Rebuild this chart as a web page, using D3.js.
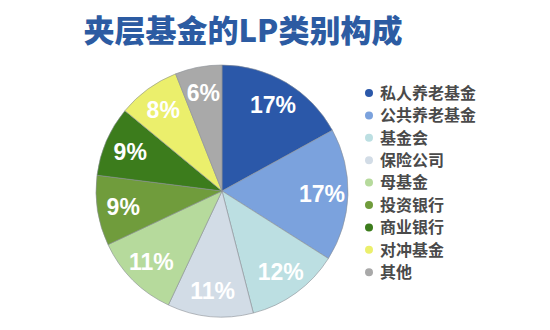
<!DOCTYPE html>
<html><head><meta charset="utf-8">
<script src="https://cdn.jsdelivr.net/npm/d3@7"></script>
<style>body{margin:0;background:#fff;} svg{display:block;}</style>
</head><body>
<svg id="c" width="550" height="330"></svg>
<script>
const categories = ["私人养老基金","公共养老基金","基金会","保险公司","母基金","投资银行","商业银行","对冲基金","其他"];
const values = [17,17,12,11,11,9,9,8,6];
const colors = ["#2b58a9","#7ba2dd","#bcdfe2","#d2dce6","#b6da9c","#709c3c","#3c7c1c","#ebef6c","#a9a9a9"];
const title = "夹层基金的LP类别构成";

const svg = d3.select("#c");
const cx = 222, cy = 191, r = 126;
svg.append("text").attr("x", 243).attr("y", 42).attr("text-anchor","middle")
  .attr("font-family","'Noto Sans CJK SC'").attr("font-weight",900).attr("font-size",31)
  .attr("fill","#2c5ba2").text(title);

const data = categories.map((c,i)=>({c, v: values[i], col: colors[i]}));
const pie = d3.pie().value(d=>d.v).sort(null);
const arcs = pie(data);
const arc = d3.arc().innerRadius(0).outerRadius(r);
const lab = d3.arc().innerRadius(100).outerRadius(100);
const g = svg.append("g").attr("transform",`translate(${cx},${cy})`);
g.selectAll("path").data(arcs).join("path").attr("d",arc).attr("fill",d=>d.data.col)
  .attr("stroke","#8a8f96").attr("stroke-width",0.6);
g.selectAll("text").data(arcs).join("text")
  .attr("transform",d=>`translate(${lab.centroid(d)})`)
  .attr("text-anchor","middle").attr("dy","0.36em")
  .attr("font-family","'Liberation Sans', Arial, sans-serif").attr("font-weight","bold").attr("font-size",23)
  .attr("fill","#fff").text(d=>d.data.v+"%");

const lg = svg.append("g");
const items = lg.selectAll("g").data(data).join("g").attr("transform",(d,i)=>`translate(369,${93+i*22.4})`);
items.append("circle").attr("r",4).attr("fill",d=>d.col);
items.append("text").attr("x",11).attr("dy","0.36em")
  .attr("font-family","'Noto Sans CJK SC'").attr("font-weight","bold").attr("font-size",16)
  .attr("fill","#4a4a4a").text(d=>d.c);
</script>
</body></html>
